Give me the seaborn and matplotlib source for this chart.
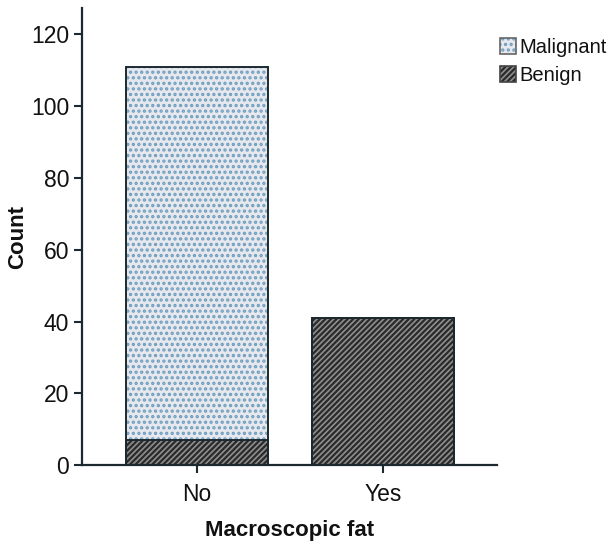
"""
Stacked count bars: tumour type by macroscopic fat
"""

import pandas as pd
import matplotlib
matplotlib.use('Agg')
import matplotlib.pyplot as plt
import seaborn as sns
from matplotlib.patches import Patch
from matplotlib.legend_handler import HandlerTuple

# Data
fat_groups = ['No', 'Yes']
benign_counts = [7, 41]
malignant_counts = [104, 0]

df = pd.DataFrame({
    'Macroscopic fat': fat_groups,
    'Benign': benign_counts,
    'Malignant': malignant_counts,
})
df['Total'] = df['Benign'] + df['Malignant']

sns.set_style('ticks')
plt.rcParams['font.family'] = ['Liberation Sans', 'DejaVu Sans']
plt.rcParams['hatch.linewidth'] = 1.6
plt.rcParams['text.color'] = '#111111'
plt.rcParams['axes.labelcolor'] = '#111111'
plt.rcParams['xtick.labelcolor'] = '#111111'
plt.rcParams['ytick.labelcolor'] = '#111111'

fig = plt.figure(figsize=(6.1, 5.44), dpi=100)
ax = fig.add_axes([0.134, 0.145, 0.681, 0.84])

edge = '#1c2a30'
mal_face = '#e6e8ee'
mal_dots = '#6f9fbf'
ben_face = '#8e8e8e'
ben_lines = '#2a2a2a'
width = 0.76

# fill layers (hatch colour comes from edgecolor, outline is drawn after)
sns.barplot(data=df, x='Macroscopic fat', y='Total', color=mal_face,
            width=width, ax=ax, linewidth=0)
n_mal = len(ax.patches)
sns.barplot(data=df, x='Macroscopic fat', y='Benign', color=ben_face,
            width=width, ax=ax, linewidth=0)
for i, p in enumerate(ax.patches):
    if i < n_mal:
        p.set_facecolor(mal_face)
        p.set_edgecolor(mal_dots)
        p.set_hatch('...')
    else:
        p.set_facecolor(ben_face)
        p.set_edgecolor(ben_lines)
        p.set_hatch('//////')
    p.set_linewidth(0)

# outlines
sns.barplot(data=df, x='Macroscopic fat', y='Total', fill=False,
            edgecolor=edge, linewidth=1.4, width=width, ax=ax)
sns.barplot(data=df, x='Macroscopic fat', y='Benign', fill=False,
            edgecolor=edge, linewidth=1.4, width=width, ax=ax)

ax.set_xlim(-0.618, 1.613)
ax.set_ylim(0, 127.3)
ax.set_yticks([0, 20, 40, 60, 80, 100, 120])
ax.set_xlabel('Macroscopic fat', fontsize=16, fontweight='bold', labelpad=10)
ax.set_ylabel('Count', fontsize=16, fontweight='bold')
ax.yaxis.set_label_coords(-0.128, 0.5)
ax.tick_params(axis='both', labelsize=16.5, length=6, width=1.5, color=edge)
ax.tick_params(axis='y', pad=3)
ax.tick_params(axis='x', pad=7)
sns.despine(ax=ax)
for s in ['left', 'bottom']:
    ax.spines[s].set_linewidth(1.6)
    ax.spines[s].set_color(edge)

# legend with overlayed fill + outline patches
mal_handle = (Patch(facecolor=mal_face, edgecolor=mal_dots, hatch='...', linewidth=0),
              Patch(fill=False, edgecolor='#666666', linewidth=1.2))
ben_handle = (Patch(facecolor=ben_face, edgecolor=ben_lines, hatch='//////', linewidth=0),
              Patch(fill=False, edgecolor='#444444', linewidth=1.2))
fig.legend([mal_handle, ben_handle], ['Malignant', 'Benign'],
           handler_map={tuple: HandlerTuple(ndivide=1, pad=0)},
           loc='upper left', bbox_to_anchor=(0.82, 0.93), frameon=False,
           fontsize=14.5, handlelength=0.8, handleheight=0.85,
           handletextpad=0.15, labelspacing=0.45, borderpad=0,
           borderaxespad=0)

plt.savefig('out.png', dpi=100)
